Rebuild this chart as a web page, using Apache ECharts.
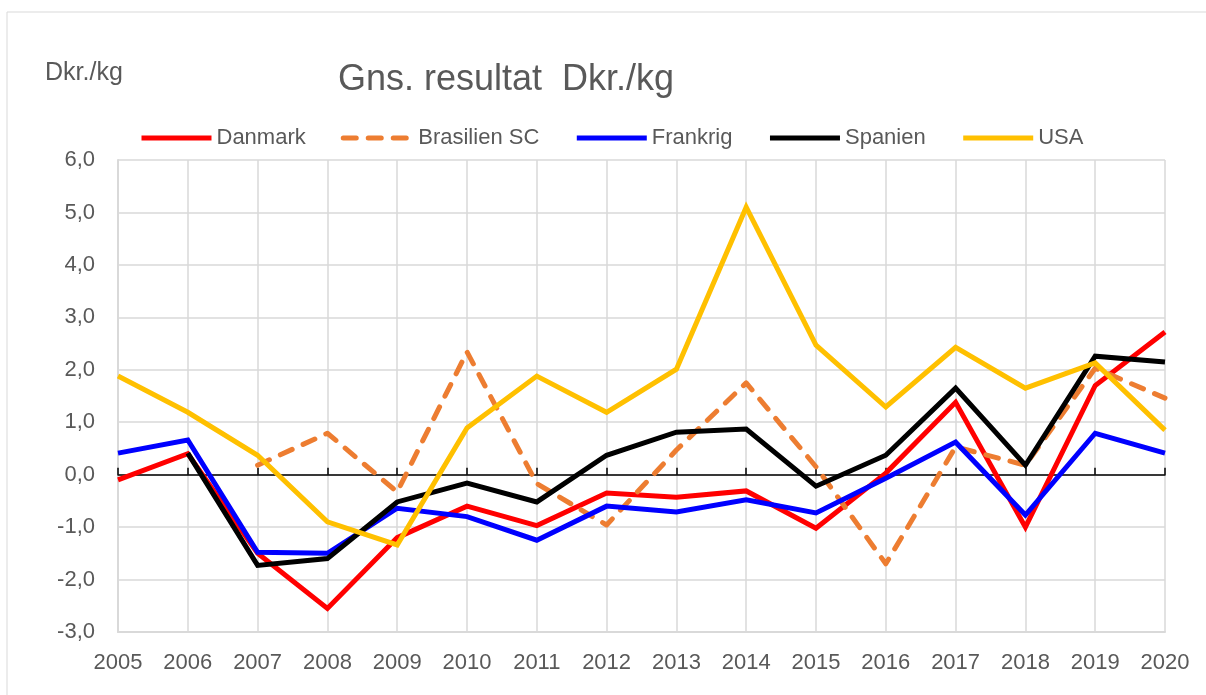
<!DOCTYPE html>
<html>
<head>
<meta charset="utf-8">
<script src="https://cdn.jsdelivr.net/npm/echarts@6/dist/echarts.min.js"></script>
<style>
  html, body { margin: 0; padding: 0; background: #fff; }
  #chart { width: 1206px; height: 695px; }
</style>
</head>
<body>
<div id="chart"></div>
<script>
// år
const years = ['2005', '2006', '2007', '2008', '2009', '2010', '2011', '2012',
  '2013', '2014', '2015', '2016', '2017', '2018', '2019', '2020']

// gns. resultat, Dkr./kg
const danmark = [-0.1, 0.4, -1.5, -2.55, -1.2, -0.6, -0.97, -0.35, -0.43, -0.31, -1.02, 0.03, 1.38, -1.0, 1.7, 2.72]
const brasilien = [null, null, 0.18, 0.79, -0.33, 2.34, -0.17, -0.96, 0.47, 1.75, 0.15, -1.7, 0.53, 0.18, 2.03, 1.46]
const frankrig = [0.41, 0.66, -1.48, -1.5, -0.64, -0.8, -1.25, -0.6, -0.71, -0.48, -0.73, -0.07, 0.62, -0.77, 0.79, 0.41]
const spanien = [null, 0.41, -1.73, -1.6, -0.52, -0.16, -0.52, 0.37, 0.81, 0.87, -0.22, 0.37, 1.65, 0.18, 2.26, 2.15]
const usa = [1.88, 1.19, 0.37, -0.9, -1.34, 0.89, 1.88, 1.19, 2.01, 5.1, 2.47, 1.29, 2.43, 1.65, 2.13, 0.85]

const textColor = '#595959'
const gridColor = '#d9d9d9'
const font = 'Liberation Sans, Arial, sans-serif'

function lineSeries(name, data, color, dashed) {
  return {
    name: name,
    type: 'line',
    data: data,
    symbol: 'none',
    showSymbol: false,
    connectNulls: false,
    lineStyle: {
      color: color,
      width: 5,
      type: dashed ? [13, 12] : 'solid',
      cap: dashed ? 'round' : 'butt',
      join: dashed ? 'round' : 'miter'
    },
    itemStyle: { color: color },
    emphasis: { disabled: true }
  }
}

let chart = echarts.init(document.getElementById('chart'))

let options = {
  animation: false,
  backgroundColor: '#fff',
  textStyle: { fontFamily: font },
  graphic: [
    {
      type: 'rect',
      shape: { x: 7, y: 12, width: 1220, height: 720 },
      style: { fill: 'none', stroke: gridColor, lineWidth: 1 },
      silent: true
    },
    {
      type: 'text',
      left: 45,
      top: 61,
      style: { text: 'Dkr./kg', fill: textColor, font: '25px Liberation Sans, Arial, sans-serif' }
    }
  ],
  title: {
    text: 'Gns. resultat  Dkr./kg',
    left: 338,
    top: 62,
    padding: 0,
    textStyle: { color: textColor, fontSize: 36, fontWeight: 'normal', fontFamily: font }
  },
  legend: {
    left: 134,
    top: 122,
    itemWidth: 70,
    itemHeight: 14,
    itemGap: 35,
    itemStyle: { opacity: 0 },
    lineStyle: { width: 5 },
    textStyle: { color: textColor, fontSize: 22, fontFamily: font },
    data: ['Danmark', 'Brasilien SC', 'Frankrig', 'Spanien', 'USA']
  },
  grid: { left: 118, right: 41, top: 160, bottom: 63 },
  xAxis: [
    {
      type: 'category',
      data: years,
      boundaryGap: false,
      axisLine: { onZero: false, lineStyle: { color: gridColor, width: 2 } },
      axisTick: { show: false },
      axisLabel: { color: textColor, fontSize: 22, margin: 20, interval: 0 },
      splitLine: { show: true, lineStyle: { color: gridColor, width: 1.5 } }
    },
    {
      type: 'category',
      data: years,
      boundaryGap: false,
      position: 'bottom',
      axisLine: { onZero: true, onZeroAxisIndex: 0, lineStyle: { color: '#000', width: 1.5 } },
      axisTick: { show: true, inside: true, length: 7, interval: 0, lineStyle: { color: '#000', width: 1.5 } },
      axisLabel: { show: false },
      splitLine: { show: false }
    }
  ],
  yAxis: {
    type: 'value',
    min: -3,
    max: 6,
    interval: 1,
    axisLine: { show: true, lineStyle: { color: gridColor, width: 2 } },
    axisTick: { show: false },
    axisLabel: {
      color: textColor,
      fontSize: 22,
      margin: 23,
      formatter: function (v) { return v.toFixed(1).replace('.', ',') }
    },
    splitLine: { lineStyle: { color: gridColor, width: 1.5 } }
  },
  series: [
    lineSeries('Danmark', danmark, '#ff0000', false),
    lineSeries('Brasilien SC', brasilien, '#ed7d31', true),
    lineSeries('Frankrig', frankrig, '#0000ff', false),
    lineSeries('Spanien', spanien, '#000000', false),
    lineSeries('USA', usa, '#ffc000', false)
  ]
}

chart.setOption(options)
window.addEventListener('resize', function () {
  chart.resize()
})
</script>
</body>
</html>
